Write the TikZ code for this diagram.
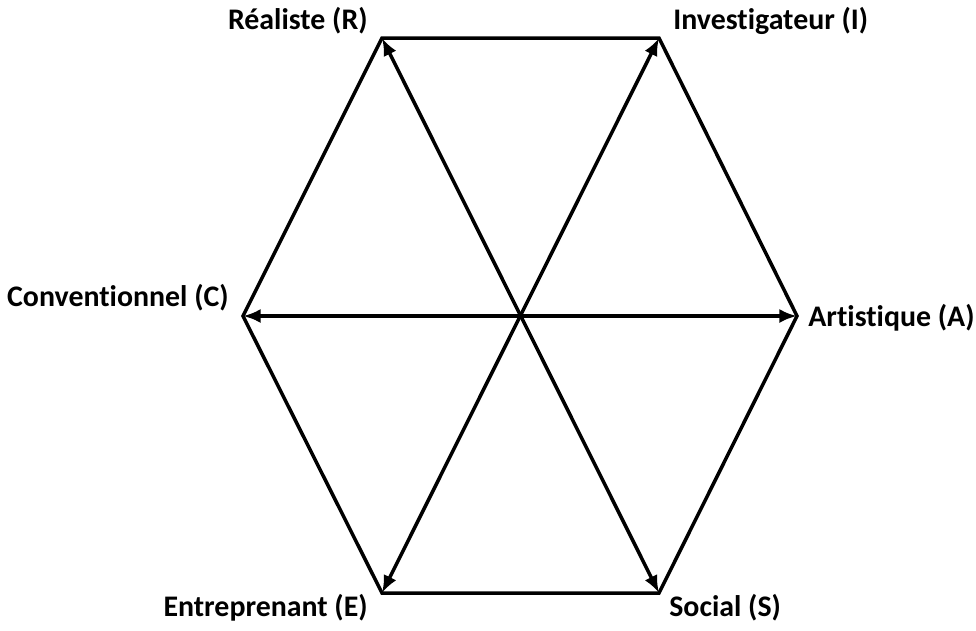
\documentclass[tikz,border=0pt]{standalone}
\usepackage{fontspec}
\setmainfont{Carlito}[Ligatures=NoCommon]
\usetikzlibrary{arrows.meta}

\begin{document}
\begin{tikzpicture}[x=0.02cm,y=-0.02cm,
	side/.style={line width=2pt,line join=miter},
	diag/.style={line width=2pt,{Latex[length=10pt,width=8pt]}-{Latex[length=10pt,width=8pt]}},
	lab/.style={font=\bfseries\fontsize{17}{19}\selectfont,inner sep=0pt}]
	\useasboundingbox (0,0) rectangle (976,630);
	% sommets
	\coordinate (R) at (382,38);
	\coordinate (I) at (659,38);
	\coordinate (A) at (797,316);
	\coordinate (S) at (659,593);
	\coordinate (E) at (382,593);
	\coordinate (C) at (243,316);
	\draw[side] (R) -- (I) -- (A) -- (S) -- (E) -- (C) -- cycle;
	\draw[diag] (R) -- (S);
	\draw[diag] (I) -- (E);
	\draw[diag] (C) -- (A);
	% libelles
	\node[lab,anchor=east] (lR) at (368,21) {Réaliste (R)};
	\node[lab,anchor=west] (lI) at (673,21) {Investigateur (I)};
	\node[lab,anchor=west] (lA) at (808,318) {Artistique (A)};
	\node[lab,anchor=west] (lS) at (669,608) {Social (S)};
	\node[lab,anchor=east] (lE) at (368,608) {Entreprenant (E)};
	\node[lab,anchor=east] (lC) at (229,298) {Conventionnel (C)};
\end{tikzpicture}
\end{document}
